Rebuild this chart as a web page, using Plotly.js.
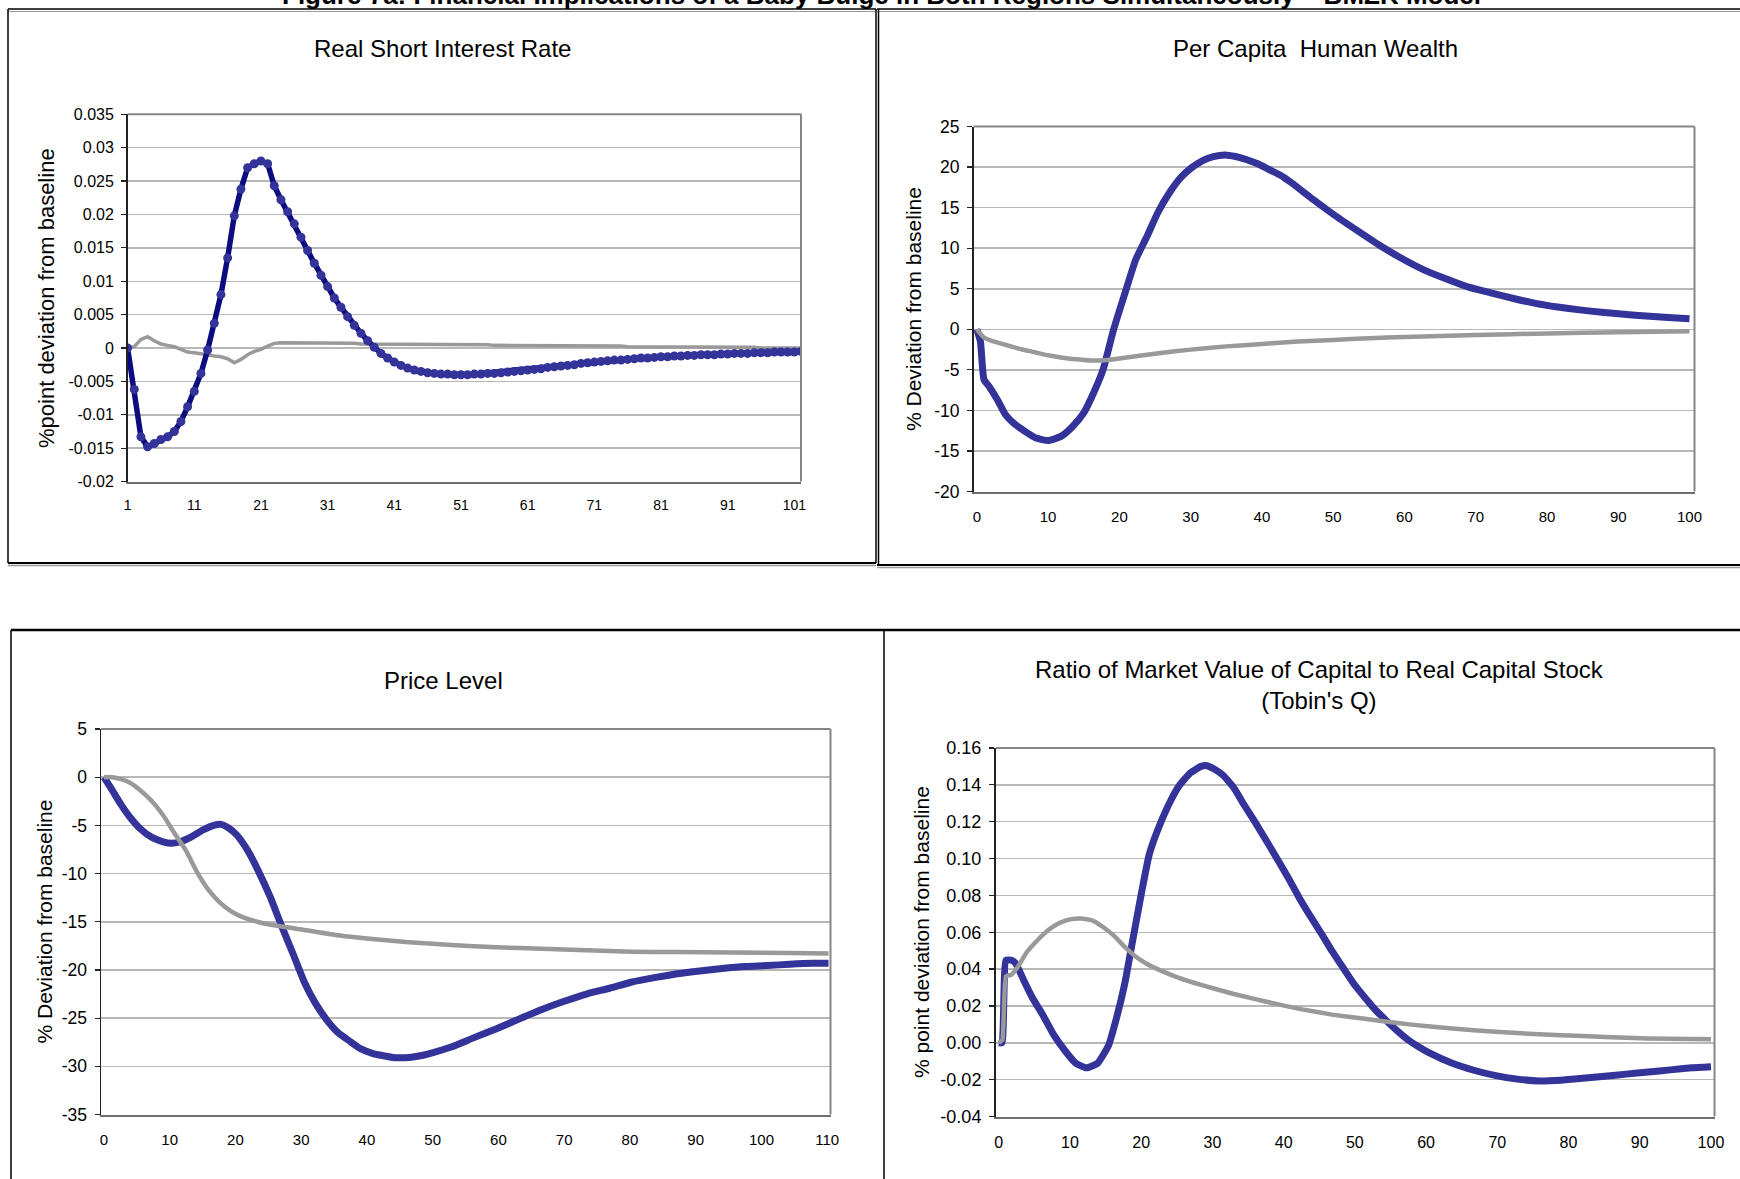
<!DOCTYPE html>
<html>
<head>
<meta charset="utf-8">
<script src="https://cdn.plot.ly/plotly-3.0.1.min.js"></script>
<style>
  html, body { margin: 0; padding: 0; background: #ffffff; }
  #chart { width: 1740px; height: 1179px; }
</style>
</head>
<body>
<div id="chart"></div>
<script>
// ---------------- DATA ----------------
// Panel 1: Real Short Interest Rate (periods 1..102)
var rateX = [1,2,3,4,5,6,7,8,9,10,11,12,13,14,15,16,17,18,19,20,21,22,23,24,25,26,27,28,29,30,
  31,32,33,34,35,36,37,38,39,40,41,42,43,44,45,46,47,48,49,50,51,52,53,54,55,56,57,58,59,60,
  61,62,63,64,65,66,67,68,69,70,71,72,73,74,75,76,77,78,79,80,81,82,83,84,85,86,87,88,89,90,
  91,92,93,94,95,96,97,98,99,100,101,102];
var rateBlue = [0,-0.0062,-0.0133,-0.0148,-0.0143,-0.0137,-0.0133,-0.0125,-0.0110,-0.0088,
  -0.0065,-0.0038,-0.0003,0.0037,0.0080,0.0135,0.0198,0.0238,0.0270,0.0276,
  0.0280,0.0276,0.0243,0.0222,0.0204,0.0186,0.0166,0.0146,0.0127,0.0109,
  0.0092,0.0075,0.0061,0.0047,0.0034,0.0022,0.0011,0.0001,-0.0008,-0.0015,
  -0.0021,-0.0026,-0.0030,-0.0033,-0.0035,-0.0037,-0.0038,-0.0039,-0.0039,-0.0040,
  -0.0040,-0.0040,-0.0039,-0.0039,-0.0038,-0.0038,-0.0037,-0.0036,-0.0035,-0.0034,
  -0.0033,-0.0032,-0.0031,-0.0029,-0.0028,-0.0027,-0.0026,-0.0025,-0.0023,-0.0022,
  -0.0021,-0.0020,-0.0019,-0.0018,-0.0018,-0.0017,-0.0016,-0.0015,-0.0015,-0.0014,
  -0.0013,-0.0013,-0.0012,-0.0012,-0.0011,-0.0011,-0.0010,-0.0010,-0.0010,-0.0009,
  -0.0009,-0.0008,-0.0008,-0.0008,-0.0007,-0.0007,-0.0007,-0.0006,-0.0006,-0.0006,
  -0.0006,-0.0005];
var rateGray = [0,0.0002,0.0013,0.0017,0.0011,0.0006,0.0004,0.0002,-0.0002,-0.0006,
  -0.0007,-0.0008,-0.0010,-0.0012,-0.0013,-0.0016,-0.0022,-0.0017,-0.0010,-0.0005,
  -0.0002,0.0003,0.0007,0.0008,0.0008,0.0008,0.0008,0.0008,0.0008,0.0007,
  0.0007,0.0007,0.0007,0.0007,0.0007,0.0006,0.0006,0.0006,0.0006,0.0006,
  0.0006,0.0006,0.0006,0.0006,0.0006,0.0005,0.0005,0.0005,0.0005,0.0005,
  0.0005,0.0005,0.0005,0.0005,0.0005,0.0004,0.0004,0.0004,0.0004,0.0004,
  0.0004,0.0004,0.0004,0.0004,0.0004,0.0003,0.0003,0.0003,0.0003,0.0003,
  0.0003,0.0003,0.0003,0.0003,0.0003,0.0002,0.0002,0.0002,0.0002,0.0002,
  0.0002,0.0002,0.0002,0.0002,0.0002,0.0001,0.0001,0.0001,0.0001,0.0001,
  0.0001,0.0001,0.0001,0.0001,0.0001,0,0,0,0,0,0,0];
var rateXTicks = [1,11,21,31,41,51,61,71,81,91,101];
var rateXTickText = ["1","11","21","31","41","51","61","71","81","91","101"];
var rateYTicks = [-0.02,-0.015,-0.01,-0.005,0,0.005,0.01,0.015,0.02,0.025,0.03,0.035];
var rateYTickText = ["-0.02","-0.015","-0.01","-0.005","0","0.005","0.01","0.015","0.02","0.025","0.03","0.035"];

// Panel 2: Per Capita Human Wealth
var wealthBlueX = [0,0.5,1,1.7,2.9,4,5.2,6.8,8.3,10,11.8,13.4,15,16.5,17.7,19.2,20.8,22.3,23.9,25.4,
  27,28.6,30.1,31.7,33.2,34.8,36.3,37.9,39.4,41,42.6,44.1,47.2,50.3,53.5,56.6,59.7,62.8,65.9,69,
  72.1,75.3,78.4,81.5,84.6,87.7,90.8,93.9,97,100];
var wealthBlue = [0,-1.5,-6.2,-7.0,-8.7,-10.5,-11.6,-12.6,-13.4,-13.7,-13.2,-12.0,-10.3,-7.6,-5.0,0.0,4.5,8.6,11.5,14.4,
  16.8,18.7,19.9,20.8,21.3,21.5,21.3,20.9,20.4,19.7,19.0,18.1,16.0,14.0,12.1,10.3,8.7,7.3,6.2,5.2,
  4.5,3.8,3.2,2.75,2.4,2.1,1.85,1.65,1.45,1.3];
var wealthGrayX = [0,1,2,4,6,8,10,12,14,16,18,20,25,30,35,40,45,50,55,60,70,80,90,100];
var wealthGray = [0,-1.0,-1.4,-1.9,-2.4,-2.8,-3.2,-3.5,-3.7,-3.85,-3.8,-3.6,-3.0,-2.5,-2.1,-1.8,-1.5,-1.3,-1.1,-0.95,-0.7,-0.5,-0.35,-0.25];
var wealthXTicks = [0,10,20,30,40,50,60,70,80,90,100];
var wealthXTickText = ["0","10","20","30","40","50","60","70","80","90","100"];
var wealthYTicks = [-20,-15,-10,-5,0,5,10,15,20,25];
var wealthYTickText = ["-20","-15","-10","-5","0","5","10","15","20","25"];

// Panel 3: Price Level
var priceBlueX = [0,1.3,2.6,3.9,5.6,7.3,9,10.3,11.6,13.3,15,16.7,17.8,18.9,20.2,21.9,23.6,25.3,27,28.8,
  30.5,32.2,33.9,35.6,37.4,39.1,40.8,42.5,44.2,45.9,47.7,49.4,52.8,56.2,59.7,63.1,66.6,70,73.4,76.9,
  80.3,83.7,87.2,90.6,94,97.5,100.9,104.3,107.8,110.2];
var priceBlue = [0,-1.4,-2.85,-4.1,-5.4,-6.25,-6.7,-6.85,-6.7,-6.2,-5.5,-5.0,-4.9,-5.25,-6.0,-7.65,-9.9,-12.45,-15.4,-18.4,
  -21.3,-23.5,-25.2,-26.5,-27.4,-28.2,-28.65,-28.9,-29.1,-29.1,-28.95,-28.7,-28.0,-27.05,-26.1,-25.1,-24.1,-23.25,-22.5,-21.9,
  -21.25,-20.8,-20.4,-20.1,-19.85,-19.65,-19.55,-19.4,-19.3,-19.3];
var priceGrayX = [0,1.3,2.6,3.9,5.6,7.3,9,10.7,12.5,14.2,15.9,17.6,19.3,21,23.6,27,30.5,35.6,40.8,45.9,
  52.8,59.7,66.6,73.4,80.3,87.2,95.7,104.3,110.2];
var priceGray = [0,0,-0.2,-0.55,-1.4,-2.5,-3.95,-5.8,-7.65,-9.9,-11.7,-13.0,-13.9,-14.5,-15.05,-15.5,-15.85,-16.4,-16.8,-17.1,
  -17.4,-17.65,-17.8,-17.95,-18.1,-18.15,-18.2,-18.25,-18.3];
var priceXTicks = [0,10,20,30,40,50,60,70,80,90,100,110];
var priceXTickText = ["0","10","20","30","40","50","60","70","80","90","100","110"];
var priceYTicks = [-35,-30,-25,-20,-15,-10,-5,0,5];
var priceYTickText = ["-35","-30","-25","-20","-15","-10","-5","0","5"];

// Panel 4: Tobin's Q
var qBlueX = [0,0.46,1,1.8,2.4,3.5,4.7,6.2,7.7,9.3,10.8,12.3,13.9,15.4,16.5,17.7,18.8,20,21.1,22.3,
  23.8,25.3,26.9,28.4,29.2,30.3,31.5,33,34.5,36.1,37.6,39.1,40.7,42.2,43.7,45.3,46.8,48.3,49.8,51.4,
  52.9,54.4,56,57.5,59,60.6,63.6,66.7,69.8,72.8,75.9,78.9,82,85.1,88.1,91.2,94.3,97.3,100];
var qBlue = [0,0,0.0448,0.0448,0.043,0.034,0.0246,0.015,0.0044,-0.0043,-0.011,-0.0136,-0.011,-0.0015,0.013,0.0323,0.0555,0.0806,0.1018,0.1153,
  0.1288,0.1394,0.1465,0.1500,0.1504,0.1485,0.1452,0.1384,0.1288,0.1191,0.1095,0.0998,0.0892,0.0786,0.0690,0.0593,0.0497,0.0410,0.0323,0.0246,
  0.0178,0.0121,0.0063,0.0015,-0.0023,-0.0058,-0.0110,-0.0149,-0.0178,-0.0197,-0.0207,-0.0203,-0.0193,-0.0182,-0.0170,-0.0159,-0.0147,-0.0136,-0.0130];
var qGrayX = [0,0.5,1,1.8,2.8,3.9,5.4,7,8.5,10,11.6,13.1,14.6,16.2,17.7,19.2,20.7,22.3,25.3,28.4,
  33,37.6,42.2,46.8,51.4,56,60.6,66.7,72.8,78.9,85.1,91.2,100];
var qGray = [0,0.0015,0.036,0.037,0.042,0.049,0.0555,0.0613,0.065,0.067,0.0675,0.0665,0.063,0.058,0.052,0.0468,0.043,0.040,0.0352,0.0314,
  0.0265,0.0223,0.0184,0.0153,0.013,0.0107,0.0088,0.0068,0.0053,0.0041,0.0032,0.0024,0.0019];
var qXTicks = [0,10,20,30,40,50,60,70,80,90,100];
var qXTickText = ["0","10","20","30","40","50","60","70","80","90","100"];
var qYTicks = [-0.04,-0.02,0,0.02,0.04,0.06,0.08,0.10,0.12,0.14,0.16];
var qYTickText = ["-0.04","-0.02","0.00","0.02","0.04","0.06","0.08","0.10","0.12","0.14","0.16"];

// ---------------- LAYOUT HELPERS ----------------
var W = 1740, H = 1179;
function fx(px) { return px / W; }
function fy(py) { return 1 - py / H; }

var FONT = "Liberation Sans, Arial, Helvetica, sans-serif";
var BLUE = "#333399", NAVY = "#0c0c80", GRAY = "#999999";

// plot areas in pixels: [left, right, top, bottom]
var areas = {
  a1: [127.6, 801, 114.3, 481.6],
  a2: [973.5, 1694.5, 126.5, 491.6],
  a3: [101, 830.5, 729, 1114.5],
  a4: [995.5, 1714.5, 748, 1116.5]
};

function xAxis(a, range, tv, tt, fs) {
  return {
    domain: [fx(a[0]), fx(a[1])], range: range,
    tickmode: "array", tickvals: tv, ticktext: tt,
    showgrid: false, zeroline: false, showline: true, linecolor: "#6e6e6e", linewidth: 2,
    ticks: "", ticklabelstandoff: 10,
    tickfont: {family: FONT, size: fs, color: "#000"}, fixedrange: true
  };
}
function yAxis(a, range, tv, tt, fs) {
  return {
    domain: [fy(a[3]), fy(a[2])], range: range,
    tickmode: "array", tickvals: tv, ticktext: tt,
    showgrid: true, gridcolor: "#b8b8b8", gridwidth: 1.5, zeroline: false,
    showline: true, linecolor: "#222222", linewidth: 1.5,
    ticks: "outside", ticklen: 5, tickcolor: "#222222", tickwidth: 1.2, ticklabelstandoff: 4,
    tickfont: {family: FONT, size: fs, color: "#000"}, fixedrange: true
  };
}

var traces = [
  {x: rateX, y: rateGray, xaxis: "x", yaxis: "y", mode: "lines", line: {color: GRAY, width: 3.5}, hoverinfo: "skip"},
  {x: rateX, y: rateBlue, xaxis: "x", yaxis: "y", mode: "lines+markers", line: {color: NAVY, width: 5.5},
   marker: {color: BLUE, size: 9, line: {width: 0}}, hoverinfo: "skip"},
  {x: wealthBlueX, y: wealthBlue, xaxis: "x2", yaxis: "y2", mode: "lines", line: {color: BLUE, width: 7, shape: "spline", smoothing: 0.5}, hoverinfo: "skip"},
  {x: wealthGrayX, y: wealthGray, xaxis: "x2", yaxis: "y2", mode: "lines", line: {color: GRAY, width: 4.5, shape: "spline", smoothing: 0.5}, hoverinfo: "skip"},
  {x: priceBlueX, y: priceBlue, xaxis: "x3", yaxis: "y3", mode: "lines", line: {color: BLUE, width: 7, shape: "spline", smoothing: 0.5}, hoverinfo: "skip"},
  {x: priceGrayX, y: priceGray, xaxis: "x3", yaxis: "y3", mode: "lines", line: {color: GRAY, width: 4.5, shape: "spline", smoothing: 0.5}, hoverinfo: "skip"},
  {x: qBlueX, y: qBlue, xaxis: "x4", yaxis: "y4", mode: "lines", line: {color: BLUE, width: 7, shape: "spline", smoothing: 0.4}, hoverinfo: "skip"},
  {x: qGrayX, y: qGray, xaxis: "x4", yaxis: "y4", mode: "lines", line: {color: GRAY, width: 4.5, shape: "spline", smoothing: 0.4}, hoverinfo: "skip"}
];

var ax1x = xAxis(areas.a1, [1, 102], rateXTicks, rateXTickText, 14); ax1x.anchor = "y";
var ax1y = yAxis(areas.a1, [-0.02, 0.035], rateYTicks, rateYTickText, 16); ax1y.anchor = "x";
var ax2x = xAxis(areas.a2, [-0.47, 100.7], wealthXTicks, wealthXTickText, 15); ax2x.anchor = "y2";
var ax2y = yAxis(areas.a2, [-20, 25], wealthYTicks, wealthYTickText, 17.5); ax2y.anchor = "x2";
var ax3x = xAxis(areas.a3, [-0.45, 110.5], priceXTicks, priceXTickText, 15); ax3x.anchor = "y3";
var ax3y = yAxis(areas.a3, [-35, 5], priceYTicks, priceYTickText, 17.5); ax3y.anchor = "x3";
var ax4x = xAxis(areas.a4, [-0.46, 100.5], qXTicks, qXTickText, 16); ax4x.anchor = "y4";
var ax4y = yAxis(areas.a4, [-0.04, 0.16], qYTicks, qYTickText, 18); ax4y.anchor = "x4";

function hline(x0, x1, y, color, width) {
  return {type: "line", xref: "paper", yref: "paper", x0: fx(x0), x1: fx(x1), y0: fy(y), y1: fy(y),
          line: {color: color, width: width}, layer: "above"};
}
function vline(x, y0, y1, color, width) {
  return {type: "line", xref: "paper", yref: "paper", x0: fx(x), x1: fx(x), y0: fy(y0), y1: fy(y1),
          line: {color: color, width: width}, layer: "above"};
}

var shapes = [];
// panel frames
shapes.push(hline(8, 876, 9, "#000", 1.5), hline(8, 876, 11.5, "#9a9a9a", 1));
shapes.push(vline(8, 9, 563, "#000", 1.5), vline(876, 9, 563, "#000", 1.5));
shapes.push(hline(8, 876, 563, "#000", 2), hline(8, 876, 565.5, "#9a9a9a", 1.5));
shapes.push(hline(877, 1745, 9, "#000", 1.5), hline(877, 1745, 11.5, "#9a9a9a", 1));
shapes.push(vline(878.5, 9, 565, "#000", 1.5));
shapes.push(hline(877, 1745, 565, "#000", 2), hline(877, 1745, 567.5, "#9a9a9a", 1.5));
shapes.push(hline(11, 884, 630, "#000", 2.5));
shapes.push(vline(11, 630, 1185, "#000", 1.5), vline(884, 630, 1185, "#000", 1.5));
shapes.push(hline(884, 1745, 630, "#000", 2.5));

// plot-area frames (top and right, gray)
Object.keys(areas).forEach(function (k) {
  var a = areas[k];
  shapes.push(hline(a[0], a[1], a[2], "#858585", 2));
  shapes.push(vline(a[1], a[2], a[3], "#858585", 2));
});

function ann(text, px, py, size, extra) {
  var o = {text: text, xref: "paper", yref: "paper", x: fx(px), y: fy(py), xanchor: "center", yanchor: "middle",
           showarrow: false, font: {family: FONT, size: size, color: "#000"}};
  for (var k in extra) o[k] = extra[k];
  return o;
}

var annotations = [
  ann("<b>Figure 7a: Financial Implications of a Baby Bulge in Both Regions Simultaneously – BMZK Model</b>", 881, -5, 26, {}),
  ann("Real Short Interest Rate", 442, 49, 24, {}),
  ann("Per Capita  Human Wealth", 1315, 49, 24, {}),
  ann("Price Level", 443, 680, 24, {}),
  ann("Ratio of Market Value of Capital to Real Capital Stock<br>(Tobin's Q)", 1319, 685, 24, {}),
  ann("%point deviation from baseline", 47, 298, 22, {textangle: -90}),
  ann("% Deviation from baseline", 914, 309, 21, {textangle: -90}),
  ann("% Deviation from baseline", 44, 921.5, 21, {textangle: -90}),
  ann("% point deviation from baseline", 921, 932, 21, {textangle: -90})
];

var layout = {
  width: W, height: H,
  margin: {l: 0, r: 0, t: 0, b: 0, pad: 0},
  paper_bgcolor: "#ffffff", plot_bgcolor: "rgba(0,0,0,0)",
  showlegend: false,
  font: {family: FONT, color: "#000"},
  xaxis: ax1x, yaxis: ax1y,
  xaxis2: ax2x, yaxis2: ax2y,
  xaxis3: ax3x, yaxis3: ax3y,
  xaxis4: ax4x, yaxis4: ax4y,
  shapes: shapes,
  annotations: annotations
};

Plotly.newPlot("chart", traces, layout, {staticPlot: true, displayModeBar: false});
</script>
</body>
</html>
